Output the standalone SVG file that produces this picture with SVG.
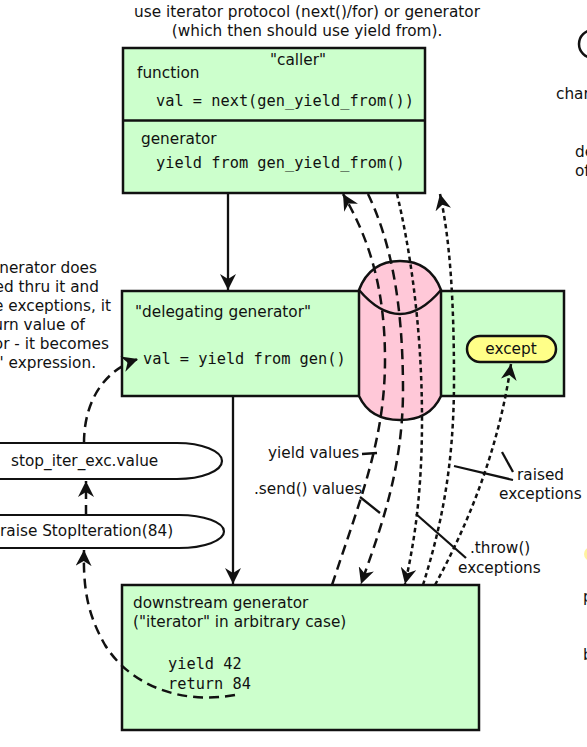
<svg xmlns="http://www.w3.org/2000/svg" width="587" height="747" viewBox="0 0 587 747">
<style>
text{font-family:"DejaVu Sans","Liberation Sans",sans-serif;font-size:15.3px;fill:#111}
.mono{font-family:"DejaVu Sans Mono","Liberation Mono",monospace}
.box{fill:#ccffcc;stroke:#111;stroke-width:2.5}
.pill{fill:#fff;stroke:#111;stroke-width:2.2}
.ln{fill:none;stroke:#111;stroke-width:2.3}
.dash{fill:none;stroke:#111;stroke-width:2.5;stroke-dasharray:10 6}
.dot{fill:none;stroke:#111;stroke-width:2.5;stroke-dasharray:4.5 3.5}
.lead{fill:none;stroke:#111;stroke-width:2.3}
</style>
<defs>
<marker id="ah" markerWidth="18" markerHeight="16" refX="16" refY="8" orient="auto" markerUnits="userSpaceOnUse">
<path d="M16,8 L0,0 L5,8 L0,16 Z" fill="#111"/>
</marker>
</defs>

<g id="top-note">
<text x="307" y="17" text-anchor="middle">use iterator protocol (next()/for) or generator</text>
<text x="307" y="36" text-anchor="middle">(which then should use yield from).</text>
</g>

<g id="left-note">
<text x="97" y="273" text-anchor="end">nerator does</text>
<text x="99" y="292" text-anchor="end">ed thru it and</text>
<text x="111" y="311" text-anchor="end">e exceptions, it</text>
<text x="85" y="330" text-anchor="end">urn value of</text>
<text x="109" y="349" text-anchor="end">or - it becomes</text>
<text x="96" y="368" text-anchor="end">' expression.</text>
</g>

<g id="right-edge">
<circle cx="593" cy="44" r="14" fill="none" stroke="#111" stroke-width="2.5"/>
<text x="556" y="99">char</text>
<text x="575" y="157">de</text>
<text x="575" y="176">of</text>
<rect x="584" y="547" width="14" height="14" rx="7" fill="#fff3a0"/>
<text x="583" y="602">p</text>
<text x="583" y="660">b</text>
</g>

<g id="caller">
<rect class="box" x="123" y="48" width="302" height="145"/>
<line x1="123" y1="120.5" x2="425" y2="120.5" stroke="#111" stroke-width="2.5"/>
<text x="298" y="65" text-anchor="middle">"caller"</text>
<text x="137" y="78">function</text>
<text class="mono" x="156" y="106">val = next(gen_yield_from())</text>
<text x="141" y="144">generator</text>
<text class="mono" x="156" y="168">yield from gen_yield_from()</text>
</g>

<g id="delegating">
<rect class="box" x="122" y="291" width="442" height="105"/>
<text x="135" y="317">"delegating generator"</text>
<text class="mono" x="143" y="364">val = yield from gen()</text>
</g>

<g id="pipe">
<path d="M359,290 L359,396 Q370,420 400,420 Q430,420 441,396 L441,290 Q430,261 400,261 Q370,261 359,290 Z" fill="#ffc8d8" stroke="#111" stroke-width="2.5"/>
<path d="M359,290 Q400,338 441,290" fill="none" stroke="#111" stroke-width="2.5"/>
</g>

<g id="except">
<rect x="467" y="336" width="89" height="26" rx="13" fill="#ffff88" stroke="#111" stroke-width="2.5"/>
<text x="511" y="354" text-anchor="middle">except</text>
</g>

<g id="downstream">
<rect class="box" x="122" y="585" width="357" height="145"/>
<text x="133" y="608">downstream generator</text>
<text x="133" y="627">("iterator" in arbitrary case)</text>
<text class="mono" x="168" y="669">yield 42</text>
<text class="mono" x="168" y="689">return 84</text>
</g>

<g id="stop-iter-value">
<path class="pill" d="M-10,443 H177 A45,18 0 0 1 177,479 H-10"/>
<text x="11" y="466">stop_iter_exc.value</text>
</g>

<g id="raise-stop">
<path class="pill" d="M-10,515 H179 A45,16.5 0 0 1 179,548 H-10"/>
<text x="0" y="536">raise StopIteration(84)</text>
</g>

<g id="connectors">
<line class="ln" x1="228" y1="193" x2="228" y2="290" marker-end="url(#ah)"/>
<line class="ln" x1="233" y1="396" x2="233" y2="584" marker-end="url(#ah)"/>
<path class="dash" d="M84,443 C84,400 105,370 138,359" marker-end="url(#ah)"/>
<path class="dash" d="M86,515 L86,481" marker-end="url(#ah)"/>
<path class="dash" d="M235,695 C180,705 130,685 105,645 C88,615 83,590 84,550" marker-end="url(#ah)"/>

<path class="dash" d="M332,585 C360,500 385,440 385,360 C385,290 370,240 343,194" marker-end="url(#ah)"/>
<path class="dash" d="M368,194 C390,240 403,300 403,390 C403,470 380,530 361,584" marker-end="url(#ah)"/>
<path class="dot" d="M397,194 C408,240 422,320 422,420 C422,490 415,540 405,584" marker-end="url(#ah)"/>
<path class="dot" d="M423,585 C440,530 454,470 454,380 C454,300 450,240 440,194" marker-end="url(#ah)"/>
<path class="dot" d="M435,585 Q495,475 511,364" marker-end="url(#ah)"/>

<line class="lead" x1="362" y1="454" x2="377" y2="453"/>
<line class="lead" x1="360" y1="497" x2="380" y2="513"/>
<line class="lead" x1="416" y1="514" x2="466" y2="558"/>
<line class="lead" x1="454" y1="466" x2="513" y2="480"/>
<line class="lead" x1="502" y1="452" x2="513" y2="472"/>
</g>

<g id="labels">
<text x="268" y="458">yield values</text>
<text x="254" y="494">.send() values</text>
<text x="470" y="553">.throw()</text>
<text x="458" y="573">exceptions</text>
<text x="517" y="480">raised</text>
<text x="499" y="499">exceptions</text>
</g>
</svg>
